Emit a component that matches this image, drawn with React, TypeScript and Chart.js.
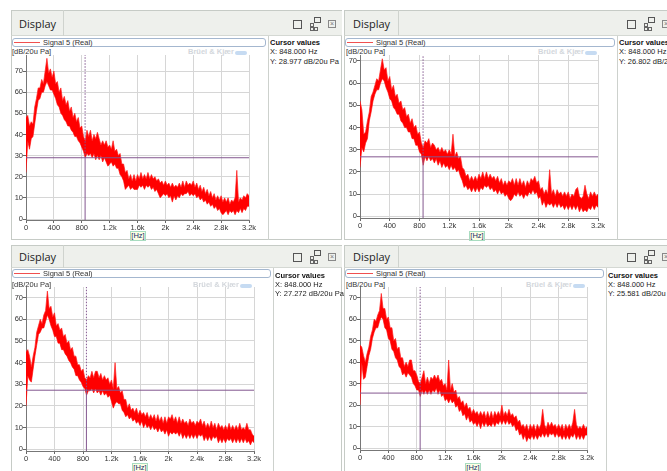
import React, { useEffect, useRef } from "react";
import { Chart, registerables } from "chart.js";

Chart.register(...registerables);

// ---------- data ----------
// Each noisy spectrum is read as the upper and lower edge of its red band,
// sampled every FREQ_STEP_HZ from 0 Hz to 3.2 kHz (129 values).
const FREQ_STEP_HZ = 25;

const upper1 = [
  48, 49, 44, 46, 45, 53, 57, 62,
  62, 66, 64, 70, 76, 69, 71, 67,
  70, 64, 65, 60, 62, 56, 58, 54,
  56, 51, 53, 48, 50, 46, 48, 43,
  44, 39, 37, 42, 39, 42, 37, 40,
  38, 41, 38, 35, 37, 35, 37, 34,
  35, 33, 37, 32, 33, 30, 31, 26,
  26, 22, 23, 19, 21, 18, 21, 18,
  21, 19, 22, 19, 21, 19, 22, 19,
  21, 19, 20, 18, 19, 17, 18, 16,
  18, 16, 17, 15, 17, 15, 16, 15,
  17, 15, 18, 15, 18, 16, 17, 16,
  18, 15, 17, 14, 16, 13, 15, 12,
  14, 11, 13, 10, 12, 9, 11, 9,
  11, 8, 10, 8, 10, 7, 9, 8,
  10, 23, 8, 10, 9, 11, 10, 12,
  11,
];
const lower1 = [
  22, 37, 33, 38, 39, 45, 51, 56,
  57, 60, 60, 63, 65, 63, 61, 61,
  59, 57, 54, 53, 50, 49, 47, 46,
  44, 44, 42, 41, 39, 39, 37, 36,
  34, 32, 29, 31, 30, 31, 29, 31,
  28, 30, 28, 30, 27, 29, 27, 25,
  26, 27, 25, 26, 24, 24, 21, 20,
  18, 14, 15, 16, 14, 15, 14, 14,
  14, 16, 15, 16, 14, 16, 15, 16,
  14, 15, 13, 14, 12, 10, 11, 12,
  11, 12, 10, 11, 8, 11, 9, 11,
  10, 12, 11, 12, 12, 13, 11, 12,
  11, 12, 10, 11, 9, 10, 8, 9,
  7, 8, 6, 7, 5, 6, 4, 5,
  3, 2, 3, 4, 2, 4, 3, 4,
  2, 4, 3, 5, 3, 5, 4, 6,
  6,
];

const upper2 = [
  52, 48, 37, 38, 43, 47, 54, 56,
  59, 62, 61, 66, 71, 66, 67, 61,
  63, 57, 59, 54, 55, 51, 52, 48,
  49, 45, 46, 42, 44, 40, 41, 37,
  38, 33, 31, 34, 33, 35, 31, 33,
  32, 30, 31, 29, 31, 29, 30, 28,
  30, 28, 37, 27, 29, 26, 27, 22,
  21, 18, 19, 16, 18, 16, 18, 16,
  19, 17, 20, 17, 20, 17, 19, 17,
  18, 16, 18, 15, 17, 14, 16, 14,
  16, 15, 17, 14, 17, 14, 17, 14,
  16, 13, 16, 14, 17, 16, 18, 15,
  16, 12, 13, 10, 12, 10, 21, 10,
  12, 9, 12, 10, 11, 9, 11, 9,
  11, 8, 10, 9, 12, 13, 9, 8,
  9, 14, 10, 8, 11, 9, 11, 9,
  10,
];
const lower2 = [
  22, 31, 29, 33, 35, 43, 47, 52,
  55, 57, 57, 60, 62, 61, 58, 56,
  53, 52, 49, 48, 46, 46, 43, 42,
  40, 40, 38, 38, 35, 35, 32, 32,
  29, 28, 23, 27, 25, 27, 25, 26,
  24, 26, 23, 25, 22, 24, 22, 23,
  21, 23, 21, 22, 20, 21, 18, 16,
  13, 14, 12, 13, 11, 13, 11, 13,
  11, 13, 12, 14, 13, 14, 12, 13,
  11, 12, 10, 12, 10, 11, 9, 10,
  8, 7, 8, 10, 9, 11, 9, 10,
  8, 10, 9, 11, 10, 12, 10, 11,
  8, 9, 5, 7, 4, 6, 5, 6,
  4, 6, 4, 6, 4, 5, 3, 5,
  3, 5, 3, 5, 3, 5, 2, 4,
  2, 3, 2, 4, 3, 5, 3, 5,
  4,
];

const upper3 = [
  45, 46, 43, 38, 43, 47, 54, 57,
  60, 58, 62, 64, 73, 65, 66, 61,
  63, 57, 58, 55, 56, 52, 53, 49,
  50, 46, 47, 43, 43, 39, 39, 36,
  37, 33, 32, 34, 33, 36, 33, 36,
  36, 33, 35, 32, 34, 32, 33, 30,
  32, 28, 40, 28, 29, 26, 27, 23,
  23, 19, 21, 18, 19, 17, 19, 16,
  18, 16, 17, 15, 17, 14, 16, 14,
  16, 13, 16, 13, 15, 12, 15, 12,
  15, 14, 16, 13, 15, 12, 15, 12,
  14, 12, 13, 11, 14, 12, 13, 11,
  13, 12, 14, 11, 13, 10, 12, 10,
  13, 10, 12, 9, 12, 10, 11, 9,
  11, 9, 12, 9, 11, 9, 11, 9,
  12, 9, 10, 9, 12, 9, 9, 7,
  6,
];
const lower3 = [
  20, 34, 32, 31, 37, 43, 48, 53,
  54, 56, 56, 59, 62, 60, 57, 55,
  52, 52, 49, 49, 46, 46, 44, 43,
  41, 40, 38, 37, 34, 34, 32, 31,
  29, 28, 25, 27, 27, 28, 26, 28,
  26, 27, 25, 27, 25, 26, 24, 25,
  22, 19, 21, 22, 21, 21, 18, 17,
  15, 16, 14, 15, 13, 14, 12, 13,
  11, 13, 10, 12, 10, 11, 9, 11,
  9, 10, 8, 10, 8, 9, 7, 9,
  6, 8, 7, 8, 7, 8, 6, 8,
  5, 7, 5, 7, 5, 7, 5, 7,
  5, 7, 6, 7, 4, 6, 4, 6,
  4, 6, 5, 6, 3, 5, 3, 5,
  3, 5, 4, 5, 3, 5, 3, 5,
  3, 5, 3, 5, 3, 4, 2, 4,
  3,
];

const upper4 = [
  48, 47, 43, 40, 44, 47, 52, 55,
  60, 59, 62, 64, 72, 65, 65, 60,
  61, 56, 56, 50, 51, 46, 47, 42,
  42, 38, 40, 38, 41, 41, 36, 36,
  34, 31, 30, 33, 36, 30, 33, 30,
  33, 32, 34, 32, 34, 31, 32, 29,
  30, 27, 41, 27, 30, 26, 27, 23,
  24, 21, 22, 19, 21, 18, 19, 16,
  18, 16, 17, 15, 17, 15, 17, 14,
  17, 14, 17, 14, 17, 15, 17, 15,
  20, 15, 17, 15, 18, 15, 16, 14,
  15, 12, 13, 10, 11, 9, 11, 8,
  11, 9, 11, 8, 11, 9, 11, 18,
  11, 9, 12, 10, 12, 10, 11, 9,
  11, 9, 11, 8, 11, 9, 11, 9,
  12, 18, 11, 9, 10, 9, 11, 9,
  10,
];
const lower4 = [
  20, 40, 32, 33, 38, 43, 46, 51,
  54, 56, 56, 59, 61, 60, 56, 55,
  51, 50, 46, 45, 42, 41, 38, 37,
  34, 35, 33, 35, 34, 33, 30, 29,
  27, 27, 24, 27, 25, 27, 25, 27,
  25, 27, 26, 28, 25, 27, 24, 25,
  22, 23, 21, 23, 21, 22, 19, 20,
  17, 18, 15, 16, 13, 15, 12, 13,
  11, 12, 10, 12, 9, 12, 10, 12,
  10, 11, 10, 12, 10, 12, 11, 13,
  11, 13, 11, 13, 11, 12, 10, 11,
  8, 9, 6, 7, 4, 6, 3, 5,
  4, 6, 4, 6, 4, 6, 5, 7,
  5, 7, 5, 7, 6, 7, 5, 7,
  5, 6, 4, 6, 4, 6, 4, 6,
  5, 7, 4, 6, 4, 6, 4, 6,
  6,
];

const uppers = [upper1, upper2, upper3, upper4];
const lowers = [lower1, lower2, lower3, lower4];
const cursorHz = 848;
const cursorDb = [28.977, 26.802, 27.272, 25.581];
const yTickValues = [0, 10, 20, 30, 40, 50, 60, 70];
const xTickValues = [0, 400, 800, 1200, 1600, 2000, 2400, 2800, 3200];
const xTickLabels = ["0", "400", "800", "1.2k", "1.6k", "2k", "2.4k", "2.8k", "3.2k"];
const legendLabel = "Signal 5 (Real)";
const yUnit = "[dB/20u Pa]";
const xUnit = "[Hz]";
const panelTitle = "Display";
const watermark = "Brüel & Kjær";

// ---------- layout (page pixels) ----------
type Layout = {
  L: number; T: number; R: number; B: number; hb: number; tabSep: number;
  dispX: number; dispCy: number; iconX: number; iconY: number;
  leg: [number, number, number, number]; unitTop: number; wmRight: number;
  sep: number; curX: number; curTop: number; hzCx: number; hzTop: number;
  plot: [number, number, number, number]; yMin: number; yMax: number;
};

const LAYOUTS: Layout[] = [
  { L: 11, T: 10, R: 342, B: 240, hb: 36, tabSep: 63, dispX: 19, dispCy: 24.7, iconX: 293, iconY: 19,
    leg: [12, 38, 266, 47], unitTop: 47, wmRight: 248, sep: 268, curX: 270, curTop: 38, hzCx: 138, hzTop: 230.5,
    plot: [26, 55, 249, 220], yMin: -0.47, yMax: 77.58 },
  { L: 344, T: 10, R: 680, B: 240, hb: 36, tabSep: 398, dispX: 353, dispCy: 24.7, iconX: 627, iconY: 19,
    leg: [345, 38, 615, 47], unitTop: 47, wmRight: 598, sep: 617, curX: 619, curTop: 38, hzCx: 477, hzTop: 230.5,
    plot: [360, 55, 598, 218], yMin: -0.77, yMax: 72.7 },
  { L: 11, T: 245, R: 342, B: 480, hb: 268, tabSep: 63, dispX: 19, dispCy: 257.3, iconX: 293, iconY: 252,
    leg: [12, 269, 271, 278], unitTop: 280, wmRight: 253, sep: 273, curX: 275, curTop: 270.5, hzCx: 140, hzTop: 462.5,
    plot: [26, 287, 254, 451], yMin: -0.78, yMax: 74.9 },
  { L: 344, T: 245, R: 680, B: 480, hb: 268, tabSep: 398, dispX: 353, dispCy: 257.3, iconX: 627, iconY: 252,
    leg: [345, 269, 604, 278], unitTop: 280, wmRight: 586, sep: 606, curX: 608, curTop: 270.5, hzCx: 473, hzTop: 462.5,
    plot: [360, 287, 587, 450], yMin: -0.93, yMax: 75 },
];

const SMALL_FONT = "'Liberation Sans', Arial, sans-serif";
const PURPLE = "#83578f";
const TRACE = "#ff0000";
const TRACE_EDGE = "rgba(255, 30, 30, 0.7)";

function SpectrumChart({ idx }: { idx: number }) {
  const ref = useRef<HTMLCanvasElement>(null);
  const lay = LAYOUTS[idx];
  const [pl, pt, pr, pb] = lay.plot;
  const left = pl - 15;
  const top = pt - 8;
  const width = pr - pl + 27;
  const height = pb - pt + 22;

  useEffect(() => {
    const cy = cursorDb[idx];
    const hiPts = uppers[idx].map((v, i) => ({ x: i * FREQ_STEP_HZ, y: v }));
    const loPts = lowers[idx].map((v, i) => ({ x: i * FREQ_STEP_HZ, y: v }));
    const xFirst = xTickValues[0];
    const xLast = xTickValues[xTickValues.length - 1];
    const tickFont = { family: SMALL_FONT, size: 7.5 };
    const chart = new Chart(ref.current as HTMLCanvasElement, {
      type: "line",
      data: {
        datasets: [
          { data: [{ x: xFirst, y: cy }, { x: xLast, y: cy }], borderColor: PURPLE, borderWidth: 1, pointRadius: 0, fill: false, order: 0 },
          { data: [{ x: cursorHz, y: lay.yMin }, { x: cursorHz, y: cy }], borderColor: PURPLE, borderWidth: 1, pointRadius: 0, fill: false, order: 0 },
          { data: [{ x: cursorHz, y: cy }, { x: cursorHz, y: lay.yMax }], borderColor: PURPLE, borderWidth: 1, borderDash: [1.5, 1.5], pointRadius: 0, fill: false, order: 0 },
          { data: hiPts, borderColor: TRACE_EDGE, backgroundColor: TRACE, borderWidth: 1, pointRadius: 0, borderJoinStyle: "bevel", fill: "+1", order: 1 },
          { data: loPts, borderColor: TRACE_EDGE, borderWidth: 1, pointRadius: 0, borderJoinStyle: "bevel", fill: false, order: 1 },
        ],
      } as any,
      options: {
        responsive: false,
        animation: false,
        events: [],
        layout: { padding: { top: 8, right: 12, left: 0, bottom: 0 } },
        plugins: { legend: { display: false }, tooltip: { enabled: false } },
        scales: {
          x: {
            type: "linear",
            min: xFirst,
            max: xLast,
            afterBuildTicks: (ax: any) => { ax.ticks = xTickValues.map((v) => ({ value: v })); },
            afterFit: (ax: any) => { ax.height = 14; },
            ticks: {
              autoSkip: false, maxRotation: 0, padding: 0, color: "#333", font: tickFont,
              callback: (_v: any, i: number) => xTickLabels[i],
            },
            grid: { color: "#d6d6d6", tickColor: "#666", tickLength: 3 },
            border: { color: "#777" },
          },
          y: {
            type: "linear",
            min: lay.yMin,
            max: lay.yMax,
            afterBuildTicks: (ax: any) => { ax.ticks = yTickValues.map((v) => ({ value: v })); },
            afterFit: (ax: any) => { ax.width = 15; },
            ticks: { autoSkip: false, padding: 0, color: "#333", font: tickFont, callback: (v: any) => String(v) },
            grid: { color: "#d6d6d6", tickColor: "#666", tickLength: 3 },
            border: { color: "#777" },
          },
        },
      } as any,
    });
    return () => chart.destroy();
  }, [idx]);

  return (
    <canvas
      ref={ref}
      width={width}
      height={height}
      style={{ position: "absolute", left, top, width, height }}
    />
  );
}

const abs = (s: React.CSSProperties): React.CSSProperties => ({ position: "absolute", ...s });

function Panel({ idx }: { idx: number }) {
  const l = LAYOUTS[idx];
  const small: React.CSSProperties = { fontFamily: SMALL_FONT, fontSize: 7.5, lineHeight: "10px", whiteSpace: "nowrap", color: "#222" };
  const cy = cursorDb[idx];
  return (
    <>
      {/* frame */}
      <div style={abs({ left: l.L, top: l.T, width: l.R - l.L, height: l.B - l.T, border: "1px solid #c6cbc6", boxSizing: "border-box", background: "#fff" })} />
      {/* header */}
      <div style={abs({ left: l.L, top: l.T, width: l.R - l.L, height: l.hb - l.T, background: "#eef0ec", borderTop: "1px solid #c6cbc6", borderLeft: "1px solid #c6cbc6", borderBottom: "1px solid #d4d8d3", boxSizing: "border-box" })} />
      <div style={abs({ left: l.tabSep, top: l.T, width: 1, height: l.hb - l.T, background: "#cfd3ce" })} />
      <div style={abs({ left: l.dispX, top: l.dispCy - 14.3, height: 28, lineHeight: "28px", fontFamily: "'Open Sans', sans-serif", fontSize: 11, color: "#1c1c1c" })}>{panelTitle}</div>
      {/* header icons */}
      <div style={abs({ left: l.iconX, top: l.iconY + 1, width: 7, height: 7, border: "1px solid #555" })} />
      <div style={abs({ left: l.iconX + 17, top: l.iconY + 4, width: 2, height: 2, border: "1px solid #666" })} />
      <div style={abs({ left: l.iconX + 17, top: l.iconY + 8, width: 2, height: 2, border: "1px solid #666" })} />
      <div style={abs({ left: l.iconX + 21, top: l.iconY + 8, width: 2, height: 2, border: "1px solid #666" })} />
      <div style={abs({ left: l.iconX + 21, top: l.iconY - 2, width: 5, height: 4, border: "1px solid #555" })} />
      <div style={abs({ left: l.iconX + 35, top: l.iconY + 1, width: 6, height: 6, border: "1px solid #888", fontSize: 7, lineHeight: "6px", textAlign: "center", color: "#777", fontFamily: SMALL_FONT, overflow: "hidden" })}>×</div>
      {/* legend */}
      <div style={abs({ left: l.leg[0], top: l.leg[1], width: l.leg[2] - l.leg[0], height: l.leg[3] - l.leg[1], border: "1px solid #a4b7cf", borderRadius: 3, boxSizing: "border-box", background: "#fff" })} />
      <div style={abs({ left: l.leg[0] + 2, top: (l.leg[1] + l.leg[3]) / 2 - 0.5, width: 26, height: 1, background: "#f05050" })} />
      <div style={abs({ ...small, left: l.leg[0] + 31, top: (l.leg[1] + l.leg[3]) / 2 - 5, color: "#333" })}>{legendLabel}</div>
      {/* unit + watermark */}
      <div style={abs({ ...small, left: l.plot[0] - 14, top: l.unitTop, color: "#333" })}>{yUnit}</div>
      <div style={abs({ ...small, left: l.wmRight - 60, width: 45, textAlign: "right", top: l.unitTop, fontWeight: "bold", color: "#d3d7dc" })}>{watermark}</div>
      <div style={abs({ left: l.wmRight - 13, top: l.unitTop + 3.5, width: 12, height: 4, borderRadius: 3, background: "#c6dbf2" })} />
      {/* cursor pane */}
      <div style={abs({ left: l.sep, top: l.hb, width: 1, height: l.B - l.hb, background: "#cdd1cd" })} />
      <div style={abs({ ...small, left: l.curX, top: l.curTop, fontWeight: "bold", color: "#111" })}>Cursor values</div>
      <div style={abs({ ...small, left: l.curX, top: l.curTop + 9.4 })}>{`X: ${cursorHz.toFixed(3)} Hz`}</div>
      <div style={abs({ ...small, left: l.curX, top: l.curTop + 18.7 })}>{`Y: ${cy.toFixed(3)} dB/20u Pa`}</div>
      {/* chart */}
      <SpectrumChart idx={idx} />
      {/* x unit */}
      <div style={abs({ ...small, left: l.hzCx - 8, top: l.hzTop, width: 14, height: 8, lineHeight: "8px", textAlign: "center", background: "#fbffe4", border: "1px solid #a8dcc0", color: "#1d2a6b" })}>{xUnit}</div>
    </>
  );
}

export default function App() {
  return (
    <div style={{ position: "absolute", left: 0, top: 0, width: 667, height: 471, overflow: "hidden", background: "#fff" }}>
      {[0, 1, 2, 3].map((i) => (
        <Panel key={i} idx={i} />
      ))}
    </div>
  );
}
